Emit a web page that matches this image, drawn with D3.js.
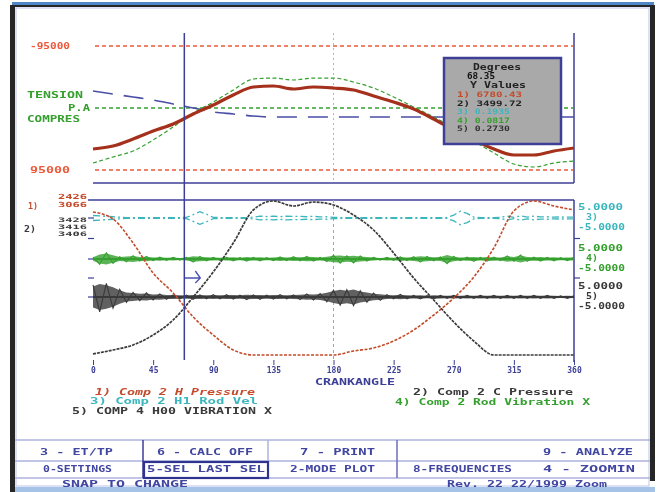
<!DOCTYPE html>
<html>
<head>
<meta charset="utf-8">
<script src="https://cdn.jsdelivr.net/npm/d3@7"></script>
<style>
  html, body { margin: 0; padding: 0; background: #fff; }
  svg { display: block; filter: blur(0.35px); }
  text { font-family: "DejaVu Sans Mono", monospace; font-weight: bold; }
</style>
</head>
<body>
<div id="chart"></div>
<script>
// compressor analyzer screen: rod load on top, pressures + vibration below

// --- data ---
const angles = [0, 15, 30, 45, 60, 75, 90, 105, 120, 135, 150, 165, 180,
                195, 210, 225, 240, 255, 270, 285, 300, 315, 330, 345, 360];

// upper panel, rod load (lbs)
const rodLoadCombined = [-62800, -58200, -47500, -35200, -24500, -9200, 4600, 19900, 32200, 33700, 29100, 32200, 30600,
                         27600, 18400, 9200, -1500, -16900, -33700, -49000, -62800, -72000, -72000, -65900, -61300];
const rodLoadGas = [-84300, -75100, -65900, -49000, -29100, -7700, 9200, 27600, 44400, 45900, 42900, 45900, 45900,
                    39800, 30600, 16900, 1500, -13800, -30600, -50600, -68900, -85800, -90400, -84300, -81200];
const rodLoadInertia = [26000, 21400, 16900, 12300, 6100, 0, -6100, -9200, -12300, -13800, -13800, -13800, -13800,
                        -13800, -13800, -13800, -13800, -13800, -13800, -13800, -13800, -13800, -13800, -13800, -13800];
const limitValues = [95000, 0, -95000];

// lower panel, pressures (psig)
const pressHead = [2370, 2335, 2215, 2065, 1965, 1845, 1755, 1680, 1655, 1655, 1655, 1655, 1655,
                   1675, 1690, 1725, 1780, 1855, 1940, 2045, 2190, 2375, 2425, 2400, 2380];
const pressCrank = [1660, 1680, 1705, 1755, 1830, 1945, 2070, 2215, 2380, 2425, 2400, 2420, 2405,
                    2355, 2280, 2165, 2040, 1930, 1820, 1725, 1655, 1655, 1655, 1655, 1655];

// vibration traces, half-amplitude of the noise band every 5 deg
const vibAngles = [0, 5, 10, 15, 20, 25, 30, 35, 40, 45, 50, 55, 60, 65, 70, 75, 80, 85, 90, 95,
                   100, 105, 110, 115, 120, 125, 130, 135, 140, 145, 150, 155, 160, 165, 170, 175, 180, 185, 190, 195,
                   200, 205, 210, 215, 220, 225, 230, 235, 240, 245, 250, 255, 260, 265, 270, 275, 280, 285, 290, 295,
                   300, 305, 310, 315, 320, 325, 330, 335, 340, 345, 350, 355, 360];
const vibRodVel = [1.2, 1.0, 0.8, 0.6, 0.4, 0.2, 0.2, 0.2, 0.2, 0.2, 0.2, 0.2, 0.2, 0.2, 0.3, 1.6, 3.0, 1.8, 0.3, 0.2,
                   0.2, 0.2, 0.2, 0.2, 0.4, 0.9, 0.7, 0.9, 0.6, 0.9, 0.7, 0.8, 0.6, 0.8, 0.5, 0.6, 0.3, 0.2, 0.2, 0.2,
                   0.2, 0.2, 0.2, 0.2, 0.2, 0.2, 0.2, 0.2, 0.2, 0.2, 0.2, 0.2, 0.2, 0.2, 1.4, 3.2, 2.2, 0.4, 0.2, 0.2,
                   0.2, 0.3, 0.9, 0.3, 1.0, 0.4, 0.9, 0.5, 0.6, 0.4, 0.5, 0.4, 0.4];
const vibRod = [0.8, 2.2, 2.6, 1.8, 0.9, 1.2, 1.4, 0.9, 1.1, 0.7, 0.8, 0.6, 0.7, 0.5, 0.7, 1.3, 1.1, 0.8, 0.7, 0.6,
                0.7, 0.8, 0.6, 0.9, 0.7, 0.8, 0.6, 0.7, 0.9, 0.7, 1.0, 0.8, 1.1, 0.9, 0.7, 1.1, 1.5, 1.7, 1.3, 1.6,
                1.2, 0.9, 0.7, 0.5, 0.7, 0.6, 0.9, 0.7, 1.0, 1.3, 1.1, 0.8, 0.9, 1.9, 1.1, 0.7, 0.8, 1.0, 0.7, 0.9,
                0.8, 0.7, 1.3, 0.9, 1.7, 1.0, 0.8, 0.9, 0.7, 0.8, 0.6, 0.7, 0.7];
const vibFrame = [5.0, 6.2, 5.6, 4.6, 3.2, 2.2, 1.9, 1.5, 1.7, 1.2, 1.3, 1.0, 0.9, 0.8, 0.8, 1.0, 0.9, 0.8, 1.0, 0.8,
                  1.0, 0.9, 0.8, 1.1, 0.9, 1.0, 0.8, 0.9, 1.0, 0.8, 0.9, 1.1, 1.3, 1.2, 1.4, 2.0, 2.8, 3.4, 3.0, 3.6,
                  2.6, 2.2, 1.6, 1.3, 1.0, 0.8, 1.1, 0.8, 0.7, 0.8, 0.6, 0.8, 0.7, 0.6, 0.7, 0.6, 0.7, 0.6, 0.7, 0.6,
                  0.7, 0.6, 0.7, 0.6, 0.7, 0.6, 0.7, 0.6, 0.7, 0.6, 0.5, 0.6, 0.5];

const cursorAngle = 68.35;
const refAngle = 180;
const xTicks = [0, 45, 90, 135, 180, 225, 270, 315, 360];

// texts
const upperLabels = ["-95000", "TENSION", "P.A", "COMPRES", "95000"];
const headScaleLabels = ["1)", "2426", "3066"];
const crankScaleLabels = ["2)", "3428", "3416", "3406"];
const vibScaleLabels = [["5.0000", "3)", "-5.0000"], ["5.0000", "4)", "-5.0000"], ["5.0000", "5)", "-5.0000"]];
const traceNames = ["1) Comp 2 H Pressure", "2) Comp 2 C Pressure", "3) Comp 2 H1 Rod Vel",
                    "4) Comp 2 Rod Vibration X", "5) COMP 4 H00 VIBRATION X"];
const readoutHead = ["Degrees", "68.35", "Y Values"];
const readoutVals = ["1) 6780.43", "2) 3499.72", "3) 0.1935", "4) 0.0817", "5) 0.2730"];
const buttonsRow1 = ["3 - ET/TP", "6 - CALC OFF", "7 - PRINT", "9 - ANALYZE"];
const buttonsRow2 = ["0-SETTINGS", "5-SEL LAST SEL", "2-MODE PLOT", "8-FREQUENCIES", "4 - ZOOMIN"];
const statusText = ["SNAP TO CHANGE", "Rev. 22 22/1999 Zoom"];

// --- colours ---
const NAVY = "#3c3f96";
const RED_LIM = "#ec5a3c";
const RED_LOAD = "#a5301c";
const RED_P = "#c44a2a";
const GREEN = "#35a02e";
const CYAN = "#3bb6bd";
const DARK = "#3a3a3a";

const W = 660, H = 492;
const svg = d3.select("#chart").append("svg").attr("width", W).attr("height", H);
svg.append("rect").attr("width", W).attr("height", H).attr("fill", "#fff");

// small text helper, stretches to the width seen on screen
function txt(str, x, y, w, fill, size, extra) {
  const t = svg.append("text")
    .attr("x", x).attr("y", y)
    .attr("fill", fill)
    .attr("font-size", size)
    .text(str);
  if (w) t.attr("textLength", w).attr("lengthAdjust", "spacingAndGlyphs");
  if (extra) extra(t);
  return t;
}

// --- window frame ---
svg.append("rect").attr("x", 12).attr("y", 2).attr("width", 642).attr("height", 3).attr("fill", "#4f86c6");
svg.append("rect").attr("x", 10).attr("y", 5).attr("width", 645).attr("height", 2).attr("fill", "#262626");
svg.append("rect").attr("x", 10).attr("y", 5).attr("width", 5).attr("height", 487).attr("fill", "#262626");
svg.append("rect").attr("x", 650).attr("y", 5).attr("width", 5).attr("height", 476).attr("fill", "#262626");
svg.append("rect").attr("x", 16).attr("y", 8).attr("width", 633).attr("height", 478)
  .attr("fill", "none").attr("stroke", "#c9cceb").attr("stroke-width", 1.2);
svg.append("rect").attr("x", 15).attr("y", 487).attr("width", 640).attr("height", 5).attr("fill", "#a4c3e6");

// --- scales ---
const x = d3.scaleLinear().domain([0, 360]).range([93, 574]);
const yLoad = d3.scaleLinear().domain([-95000, 95000]).range([170, 46]);
const yPress = d3.scaleLinear().domain([1650, 2430]).range([356, 200]);
const vibCenters = [218, 259, 297];
const yVib = vibCenters.map(c => d3.scaleLinear().domain([-5, 5]).range([c + 10.5, c - 10.5]));

// --- upper panel ---
const up = svg.append("g");

// limit lines
limitValues.forEach((v, i) => {
  up.append("line")
    .attr("x1", 95).attr("x2", 573)
    .attr("y1", yLoad(v)).attr("y2", yLoad(v))
    .attr("stroke", i === 1 ? GREEN : RED_LIM)
    .attr("stroke-width", 1.5)
    .attr("stroke-dasharray", "4,3");
});

// frame bits: right side and bottom only
up.append("line").attr("x1", x(360)).attr("x2", x(360)).attr("y1", 33).attr("y2", 183)
  .attr("stroke", NAVY).attr("stroke-width", 1.5);
up.append("line").attr("x1", x(0)).attr("x2", x(360)).attr("y1", 183).attr("y2", 183)
  .attr("stroke", NAVY).attr("stroke-width", 1.5);

// reference angle, dotted
up.append("line").attr("x1", x(refAngle)).attr("x2", x(refAngle)).attr("y1", 33).attr("y2", 183)
  .attr("stroke", "#8fcf88").attr("stroke-width", 1).attr("stroke-dasharray", "2,3");

const loadLine = d3.line().x((d, i) => x(angles[i])).y(d => yLoad(d)).curve(d3.curveMonotoneX);

up.append("path").datum(rodLoadInertia)
  .attr("d", loadLine)
  .attr("fill", "none").attr("stroke", "#4a4fa6").attr("stroke-width", 1.6)
  .attr("stroke-dasharray", "20,11");

up.append("path").datum(rodLoadGas)
  .attr("d", loadLine)
  .attr("fill", "none").attr("stroke", GREEN).attr("stroke-width", 1.2)
  .attr("stroke-dasharray", "4,2.5");

up.append("path").datum(rodLoadCombined)
  .attr("d", loadLine)
  .attr("fill", "none").attr("stroke", RED_LOAD).attr("stroke-width", 3.2);

// left labels
txt(upperLabels[0], 30, 49, 40, RED_LIM, 9);
txt(upperLabels[1], 27, 98, 56, GREEN, 9);
txt(upperLabels[2], 68, 111, 22, GREEN, 9);
txt(upperLabels[3], 27, 122, 53, GREEN, 9);
txt(upperLabels[4], 30, 173, 40, RED_LIM, 9);

// --- lower panel ---
const lo = svg.append("g");

lo.append("line").attr("x1", 88).attr("x2", x(360)).attr("y1", 200).attr("y2", 200)
  .attr("stroke", NAVY).attr("stroke-width", 1.5);
lo.append("line").attr("x1", x(360)).attr("x2", x(360)).attr("y1", 200).attr("y2", 362)
  .attr("stroke", NAVY).attr("stroke-width", 1.5);
lo.append("line").attr("x1", x(refAngle)).attr("x2", x(refAngle)).attr("y1", 200).attr("y2", 362)
  .attr("stroke", "#9aa0d4").attr("stroke-width", 1).attr("stroke-dasharray", "3,3");

// zero ticks on both sides
const midTicks = [vibCenters[0], (vibCenters[0] + vibCenters[1]) / 2, vibCenters[1],
                  (vibCenters[1] + vibCenters[2]) / 2, vibCenters[2]];
midTicks.forEach(t => {
  lo.append("line").attr("x1", 88).attr("x2", 94).attr("y1", t).attr("y2", t)
    .attr("stroke", NAVY).attr("stroke-width", 1.2);
});
[midTicks[1], midTicks[3]].forEach(t => {
  lo.append("line").attr("x1", x(360)).attr("x2", x(360) + 6).attr("y1", t).attr("y2", t)
    .attr("stroke", NAVY).attr("stroke-width", 1.2);
});

// vibration bands
const vibSets = [
  { vals: vibRodVel, color: CYAN },
  { vals: vibRod, color: GREEN },
  { vals: vibFrame, color: DARK }
];
vibSets.forEach((s, k) => {
  const sy = yVib[k];
  if (k === 0) {
    // rod velocity: dash-dot outline, opens into diamonds on the bursts
    [1, -1].forEach(sign => {
      lo.append("path").datum(s.vals)
        .attr("d", d3.line().x((d, i) => x(vibAngles[i])).y(d => sy(sign * d)))
        .attr("fill", "none").attr("stroke", s.color).attr("stroke-width", 1.3)
        .attr("stroke-dasharray", "7,3,2,3");
    });
  } else {
    // envelope, filled
    const area = d3.area()
      .x((d, i) => x(vibAngles[i]))
      .y0(d => sy(-d)).y1(d => sy(d));
    lo.append("path").datum(s.vals)
      .attr("d", area)
      .attr("fill", s.color).attr("fill-opacity", 0.8);
    // jagged trace bouncing between the envelope edges, so it reads as noise
    lo.append("path").datum(s.vals)
      .attr("d", d3.line().x((d, i) => x(vibAngles[i])).y((d, i) => sy(i % 2 ? -d * 1.15 : d * 1.15)))
      .attr("fill", "none").attr("stroke", s.color).attr("stroke-width", 1.1);
    lo.append("line").attr("x1", x(0)).attr("x2", x(360)).attr("y1", sy(0)).attr("y2", sy(0))
      .attr("stroke", s.color).attr("stroke-width", 1.8);
  }
});

// pressure traces
const pressLine = d3.line().x((d, i) => x(angles[i])).y(d => yPress(d)).curve(d3.curveMonotoneX);
lo.append("path").datum(pressHead)
  .attr("d", pressLine)
  .attr("fill", "none").attr("stroke", RED_P).attr("stroke-width", 1.6)
  .attr("stroke-dasharray", "3,1.5");
lo.append("path").datum(pressCrank)
  .attr("d", pressLine)
  .attr("fill", "none").attr("stroke", DARK).attr("stroke-width", 1.7)
  .attr("stroke-dasharray", "3,1");

// cursor and its arrow
const cx = x(cursorAngle);
svg.append("line").attr("x1", cx).attr("x2", cx).attr("y1", 33).attr("y2", 360)
  .attr("stroke", NAVY).attr("stroke-width", 1.5);
const ay = midTicks[3];
lo.append("path")
  .attr("d", `M${cx},${ay}H${cx + 16}M${cx + 11},${ay - 7}L${cx + 16},${ay}L${cx + 11},${ay + 5}`)
  .attr("fill", "none").attr("stroke", "#4a50b0").attr("stroke-width", 1.3);

// x axis, ticks + labels only
const xAxis = d3.axisBottom(x).tickValues(xTicks).tickSize(5).tickPadding(2).tickFormat(d => d);
const axG = svg.append("g").attr("transform", "translate(0,360)").call(xAxis);
axG.select(".domain").remove();
axG.selectAll("line").attr("stroke", NAVY);
axG.selectAll("text")
  .attr("fill", NAVY)
  .attr("font-size", 8)
  .attr("font-family", "DejaVu Sans Mono")
  .attr("font-weight", "bold");
txt("CRANKANGLE", 315, 385, 80, NAVY, 9);

// scale labels left
txt(headScaleLabels[0], 28, 209, 10, RED_P, 8);
txt(headScaleLabels[1], 58, 199, 29, RED_P, 7);
txt(headScaleLabels[2], 58, 207, 29, RED_P, 7);
txt(crankScaleLabels[0], 24, 232, 12, DARK, 8);
txt(crankScaleLabels[1], 58, 222, 29, DARK, 6);
txt(crankScaleLabels[2], 58, 229, 29, DARK, 6);
txt(crankScaleLabels[3], 58, 236, 29, DARK, 6);

// scale labels right
const vibColors = [CYAN, GREEN, DARK];
vibScaleLabels.forEach((labs, k) => {
  const c = vibCenters[k];
  txt(labs[0], 578, c - 8, 45, vibColors[k], 8);
  txt(labs[1], 586, c + 2, 12, vibColors[k], 8);
  txt(labs[2], 578, c + 12, 47, vibColors[k], 8);
});

// trace legend (left block and right block)
txt(traceNames[0], 95, 395, 160, RED_P, 8, t => t.attr("font-style", "italic"));
txt(traceNames[2], 90, 404, 168, CYAN, 8);
txt(traceNames[4], 72, 414, 200, DARK, 8);
txt(traceNames[1], 413, 395, 160, DARK, 8);
txt(traceNames[3], 395, 405, 195, GREEN, 8);

// --- readout box ---
svg.append("rect").attr("x", 444).attr("y", 58).attr("width", 117).attr("height", 86)
  .attr("fill", "#a9a9a9").attr("stroke", "#3d4096").attr("stroke-width", 2.5);
txt(readoutHead[0], 473, 70, 48, "#222", 8);
txt(readoutHead[1], 467, 79, 28, "#111", 9);
txt(readoutHead[2], 470, 88, 56, "#222", 8);
const readColors = [RED_P, "#222", CYAN, GREEN, "#333"];
const readY = [97, 105.5, 114, 122.5, 131];
readoutVals.forEach((s, i) => {
  txt(s, 457, readY[i], i < 2 ? 65 : 53, readColors[i], 7.5);
});

// --- button strip ---
const LAV = "#aeb2dc";
[440, 461, 478].forEach(yy => {
  svg.append("line").attr("x1", 15).attr("x2", 650).attr("y1", yy).attr("y2", yy)
    .attr("stroke", LAV).attr("stroke-width", 1.5);
});
svg.append("line").attr("x1", 143).attr("x2", 143).attr("y1", 440).attr("y2", 478)
  .attr("stroke", NAVY).attr("stroke-width", 1.5);
svg.append("line").attr("x1", 268).attr("x2", 268).attr("y1", 440).attr("y2", 461)
  .attr("stroke", LAV).attr("stroke-width", 1.5);
svg.append("line").attr("x1", 397).attr("x2", 397).attr("y1", 440).attr("y2", 478)
  .attr("stroke", "#6b6fb8").attr("stroke-width", 1.5);
svg.append("rect").attr("x", 144).attr("y", 462).attr("width", 124).attr("height", 16)
  .attr("fill", "none").attr("stroke", "#2f3390").attr("stroke-width", 2.2);

const BTN = "#4146a0";
txt(buttonsRow1[0], 40, 455, 73, BTN, 8);
txt(buttonsRow1[1], 157, 455, 96, BTN, 8);
txt(buttonsRow1[2], 300, 455, 75, BTN, 8);
txt(buttonsRow1[3], 543, 455, 90, BTN, 8);
txt(buttonsRow2[0], 43, 472, 69, BTN, 8);
txt(buttonsRow2[1], 147, 472, 118, BTN, 8);
txt(buttonsRow2[2], 290, 472, 85, BTN, 8);
txt(buttonsRow2[3], 413, 472, 99, BTN, 8);
txt(buttonsRow2[4], 543, 472, 92, BTN, 8);
txt(statusText[0], 62, 487, 126, BTN, 8);
txt(statusText[1], 447, 487, 160, BTN, 8);
</script>
</body>
</html>
